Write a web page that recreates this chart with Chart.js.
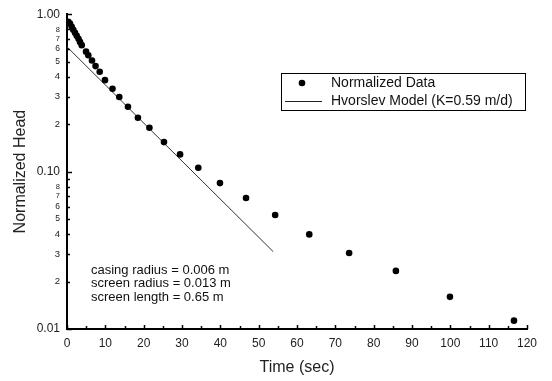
<!DOCTYPE html>
<html>
<head>
<meta charset="utf-8">
<script src="https://cdn.jsdelivr.net/npm/chart.js@4"></script>
<style>
  html, body { margin: 0; padding: 0; background: #fff; }
  #wrap { width: 552px; height: 381px; }
</style>
</head>
<body>
<div id="wrap"><canvas id="c" width="552" height="381"></canvas></div>
<script>
// ---- data ----
const dataTime = [0.34, 0.78, 1.23, 1.64, 2.09, 2.53, 3.0, 3.39, 3.84, 4.96, 5.56, 6.52, 7.44, 8.53, 9.91, 11.87, 13.64, 15.9, 18.5, 21.5, 25.3, 29.5, 34.25, 39.9, 46.7, 54.3, 63.2, 73.6, 85.8, 99.9, 116.6];
const dataHead = [0.894, 0.873, 0.831, 0.797, 0.763, 0.730, 0.699, 0.667, 0.636, 0.578, 0.549, 0.508, 0.468, 0.431, 0.381, 0.336, 0.298, 0.258, 0.220, 0.190, 0.154, 0.1286, 0.1057, 0.0845, 0.0679, 0.0530, 0.0399, 0.0304, 0.0234, 0.0160, 0.0113];
const modelTime = [0, 53.8];
const modelHead = [0.62, 0.031];

const xTickValues = [0, 10, 20, 30, 40, 50, 60, 70, 80, 90, 100, 110, 120];
const xTickMarks = [0, 5, 10, 15, 20, 25, 30, 35, 40, 45, 50, 55, 60, 65, 70, 75, 80, 85, 90, 95, 100, 105, 110, 115, 120];
const yTickValues = [0.01, 0.02, 0.03, 0.04, 0.05, 0.06, 0.07, 0.08, 0.09, 0.1, 0.2, 0.3, 0.4, 0.5, 0.6, 0.7, 0.8, 0.9, 1.0];
const yTickLabels = ['0.01', '2', '3', '4', '5', '6', '7', '8', '', '0.10', '2', '3', '4', '5', '6', '7', '8', '', '1.00'];

const legendLabels = ['Normalized Data', 'Hvorslev Model (K=0.59 m/d)'];
const noteLines = ['casing radius = 0.006 m', 'screen radius = 0.013 m', 'screen length = 0.65 m'];

const FONT = '"Liberation Sans", Arial, sans-serif';
function isDecade(v) { const l = Math.log10(v); return Math.abs(l - Math.round(l)) < 1e-6; }
function minorSize(v) {
  const m = Math.round(v / Math.pow(10, Math.floor(Math.log10(v) + 1e-9)));
  if (m <= 4) return 9.5;
  if (m <= 6) return 8.5;
  return 7.5;
}

const inTicks = {
  id: 'inTicks',
  afterDraw(chart) {
    const { ctx, chartArea: a, scales: { x, y } } = chart;
    ctx.save();
    ctx.strokeStyle = '#000';
    ctx.lineWidth = 1.5;
    ctx.beginPath();
    xTickMarks.forEach(v => {
      const px = Math.round(x.getPixelForValue(v)) + 0.5;
      const len = (v % 10 === 0) ? 4 : 3;
      ctx.moveTo(px, a.bottom);
      ctx.lineTo(px, a.bottom - len);
    });
    yTickValues.forEach(v => {
      const py = Math.round(y.getPixelForValue(v)) + 0.5;
      const len = isDecade(v) ? 5 : 3;
      ctx.moveTo(a.left, py);
      ctx.lineTo(a.left + len, py);
    });
    ctx.stroke();
    ctx.restore();
  }
};

const legendAndNotes = {
  id: 'legendAndNotes',
  afterDraw(chart) {
    const ctx = chart.ctx;
    ctx.save();
    ctx.strokeStyle = '#000';
    ctx.lineWidth = 1;
    ctx.strokeRect(281.5, 73.5, 244, 37);
    ctx.fillStyle = '#000';
    ctx.beginPath();
    ctx.arc(302, 83, 3.3, 0, Math.PI * 2);
    ctx.fill();
    ctx.strokeStyle = '#222';
    ctx.beginPath();
    ctx.moveTo(285, 101.5);
    ctx.lineTo(322, 101.5);
    ctx.stroke();
    ctx.fillStyle = '#111';
    ctx.font = '14px ' + FONT;
    ctx.textBaseline = 'middle';
    ctx.textAlign = 'left';
    ctx.fillText(legendLabels[0], 331, 83);
    ctx.fillText(legendLabels[1], 331, 101.5);
    ctx.font = '13px ' + FONT;
    noteLines.forEach((t, i) => ctx.fillText(t, 91, 270 + i * 13.5));
    ctx.restore();
  }
};

new Chart(document.getElementById('c'), {
  type: 'scatter',
  data: {
    datasets: [
      {
        label: legendLabels[1],
        data: modelTime.map((t, i) => ({ x: t, y: modelHead[i] })),
        showLine: true,
        borderColor: '#333',
        borderWidth: 1,
        pointRadius: 0,
        order: 2
      },
      {
        label: legendLabels[0],
        data: dataTime.map((t, i) => ({ x: t, y: dataHead[i] })),
        showLine: false,
        backgroundColor: '#000',
        borderColor: '#000',
        pointRadius: 3.3,
        pointBorderWidth: 0,
        order: 1
      }
    ]
  },
  options: {
    responsive: false,
    animation: false,
    devicePixelRatio: 1,
    layout: { padding: { left: 0, right: 25, top: 14, bottom: 0 } },
    plugins: { legend: { display: false }, tooltip: { enabled: false } },
    scales: {
      x: {
        type: 'linear',
        min: 0, max: 120,
        afterBuildTicks(s) { s.ticks = xTickValues.map(v => ({ value: v })); },
        afterFit(s) { s.height = 52; },
        grid: { display: false, drawTicks: false },
        border: { display: true, color: '#000', width: 2 },
        ticks: { color: '#222', font: { family: FONT, size: 12 }, padding: 7, maxRotation: 0, autoSkip: false },
        title: { display: true, text: 'Time (sec)', color: '#222', font: { family: FONT, size: 16 }, padding: { top: 0, bottom: 4 } }
      },
      y: {
        type: 'logarithmic',
        min: 0.01, max: 1,
        afterBuildTicks(s) { s.ticks = yTickValues.map(v => ({ value: v, major: isDecade(v) })); },
        afterFit(s) { s.width = 67; },
        grid: { display: false, drawTicks: false },
        border: { display: true, color: '#000', width: 2 },
        ticks: {
          autoSkip: false,
          color: '#222',
          callback: (v) => { const i = yTickValues.findIndex(t => Math.abs(t - v) < 1e-9); return i >= 0 ? yTickLabels[i] : ''; },
          font: (c) => ({ family: FONT, size: (c.tick && isDecade(c.tick.value)) ? 12 : minorSize(c.tick ? c.tick.value : 0.5) }),
          padding: (c) => (c.tick && isDecade(c.tick.value)) ? 5 : 7
        },
        title: { display: true, text: 'Normalized Head', color: '#222', font: { family: FONT, size: 16 }, padding: { top: 11, bottom: 0 } }
      }
    }
  },
  plugins: [inTicks, legendAndNotes]
});
</script>
</body>
</html>
